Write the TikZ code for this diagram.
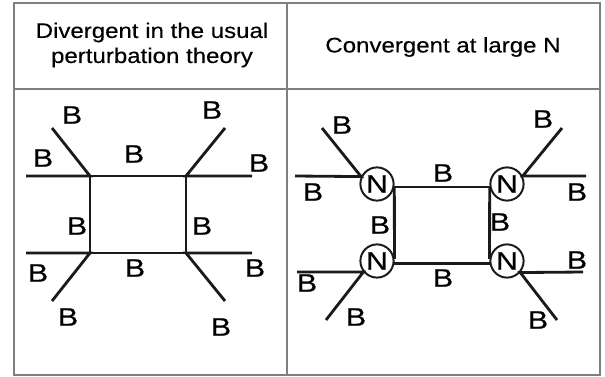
\documentclass[tikz,border=0pt]{standalone}
\usepackage{fontspec}
\setmainfont[FakeStretch=1.2, FakeBold=0.4]{Liberation Sans}
\newfontfamily\headfont[FakeStretch=1.14, FakeBold=0.3]{Liberation Sans}
\usetikzlibrary{positioning}
\definecolor{FrameGray}{HTML}{7F7F7F}
\definecolor{LineDark}{HTML}{1A1A1A}
\begin{document}
\begin{tikzpicture}[
    x=0.025cm, y=-0.025cm,
    frame/.style={draw=FrameGray, line width=0.8pt},
    head/.style={inner sep=0pt, align=center, font=\headfont\fontsize{15}{17.8}\selectfont},
    lbl/.style={inner sep=0pt, font=\fontsize{18}{20}\selectfont},
    leg/.style={draw=LineDark, line width=2pt},
    vtx/.style={circle, draw=LineDark, line width=1.4pt, fill=white, minimum size=0.83cm, inner sep=0pt, font=\fontsize{18}{20}\selectfont}
  ]
  \useasboundingbox (0,0) rectangle (605,376);

  % table
  \draw[frame] (14,3) rectangle (600,375);
  \draw[frame] (14,89) -- (600,89);
  \draw[frame] (287,3) -- (287,375);
  \node[head] (hdiv) at (152,45) {Divergent in the usual\\perturbation theory};
  \node[head] (hconv) at (443,47) {Convergent at large N};

  % left: usual perturbation theory
  \coordinate (ptl) at (90,176);
  \coordinate (ptr) at (186,176);
  \coordinate (pbl) at (90,253);
  \coordinate (pbr) at (186,253);
  \coordinate (etlh) at (26,176);
  \coordinate (etld) at (52,128);
  \coordinate (etrd) at (225,128);
  \coordinate (etrh) at (252,176);
  \coordinate (eblh) at (26,253);
  \coordinate (ebld) at (52,301);
  \coordinate (ebrh) at (252,253);
  \coordinate (ebrd) at (225,301);
  \draw[leg] (ptl) -- (ptr) -- (pbr) -- (pbl) -- cycle;
  \draw[leg] (etlh) -- (ptl) -- (etld);
  \draw[leg] (etrh) -- (ptr) -- (etrd);
  \draw[leg] (eblh) -- (pbl) -- (ebld);
  \draw[leg] (ebrh) -- (pbr) -- (ebrd);
  \node[lbl] (l1) at (72,115) {B};
  \node[lbl] (l2) at (43,158) {B};
  \node[lbl] (l3) at (134,154) {B};
  \node[lbl] (l4) at (212,110) {B};
  \node[lbl] (l5) at (259,163) {B};
  \node[lbl] (l6) at (77,226) {B};
  \node[lbl] (l7) at (202,226) {B};
  \node[lbl] (l8) at (38,273) {B};
  \node[lbl] (l9) at (135,268) {B};
  \node[lbl] (l10) at (255,268) {B};
  \node[lbl] (l11) at (68,317) {B};
  \node[lbl] (l12) at (221,327) {B};

  % right: large N
  \node[vtx] (ntl) at (377,184) {N};
  \node[vtx] (ntr) at (507,184) {N};
  \node[vtx] (nbl) at (377,261) {N};
  \node[vtx] (nbr) at (507,261) {N};
  \coordinate (ftlh) at (295,176);
  \coordinate (ftld) at (322,128);
  \coordinate (ftrd) at (562,128);
  \coordinate (ftrh) at (586,176);
  \coordinate (fblh) at (297,272);
  \coordinate (fbld) at (326,320);
  \coordinate (fbrh) at (583,272);
  \coordinate (fbrd) at (557,320);
  \draw[leg] (ntl.-10) -- (ntr.-170);
  \draw[leg] (nbl.-7) -- (nbr.-173);
  \draw[leg] (ntl.-10) -- (nbl.7);
  \draw[leg] (ntr.-170) -- (nbr.173);
  \draw[leg] (ftlh) -- (ntl.155) -- (ftld);
  \draw[leg] (ftrh) -- (ntr.27) -- (ftrd);
  \draw[leg] (fblh) -- (nbl.219) -- (fbld);
  \draw[leg] (fbrh) -- (nbr.-41) -- (fbrd);
  \node[lbl] (r1) at (342,125) {B};
  \node[lbl] (r2) at (313,192) {B};
  \node[lbl] (r3) at (443,173) {B};
  \node[lbl] (r4) at (543,119) {B};
  \node[lbl] (r5) at (577,192) {B};
  \node[lbl] (r6) at (380,225) {B};
  \node[lbl] (r7) at (500,222) {B};
  \node[lbl] (r8) at (307,283) {B};
  \node[lbl] (r9) at (443,278) {B};
  \node[lbl] (r10) at (577,260) {B};
  \node[lbl] (r11) at (356,317) {B};
  \node[lbl] (r12) at (538,320) {B};
\end{tikzpicture}
\end{document}
